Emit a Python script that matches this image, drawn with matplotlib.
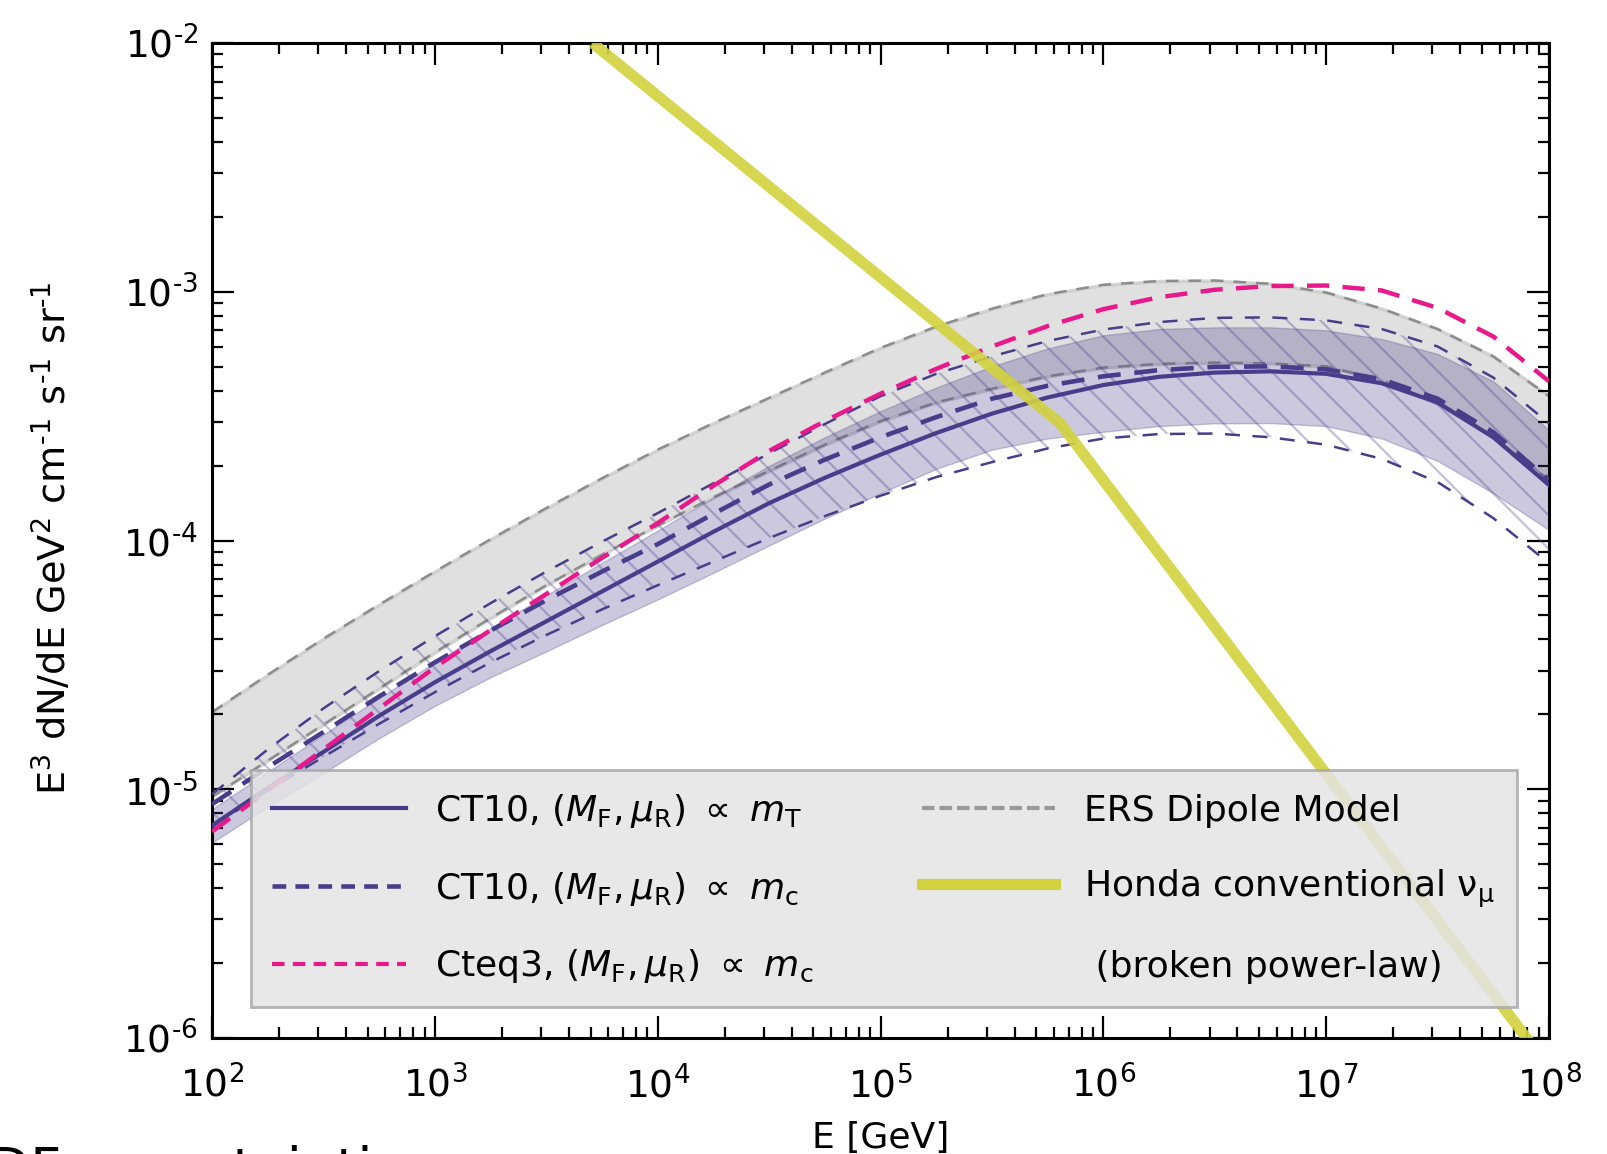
import numpy as np
import matplotlib
matplotlib.use("Agg")
import matplotlib.pyplot as plt
from matplotlib.lines import Line2D
from matplotlib.ticker import LogLocator, NullFormatter, FuncFormatter

# ---------------- data ----------------
# log10(E / GeV)
energy_log = [2.0, 2.25, 2.5, 2.75, 3.0, 3.25, 3.5, 3.75, 4.0, 4.25, 4.5, 4.75, 5.0,
              5.25, 5.5, 5.75, 6.0, 6.25, 6.5, 6.75, 7.0, 7.25, 7.5, 7.75, 8.0]

# log10(E^3 dN/dE) for each curve
ct10_mt_log = [-5.146, -4.995, -4.85, -4.705, -4.57, -4.445, -4.325, -4.205, -4.085, -3.965, -3.85, -3.748, -3.655,
               -3.568, -3.49, -3.425, -3.375, -3.342, -3.325, -3.32, -3.33, -3.368, -3.445, -3.585, -3.777]
ct10_mc_log = [-5.06, -4.912, -4.77, -4.627, -4.49, -4.362, -4.24, -4.125, -4.015, -3.893, -3.775, -3.675, -3.585,
               -3.504, -3.43, -3.378, -3.34, -3.315, -3.302, -3.30, -3.312, -3.352, -3.43, -3.565, -3.757]
cteq3_log = [-5.17, -5.005, -4.84, -4.675, -4.51, -4.36, -4.215, -4.07, -3.93, -3.78, -3.64, -3.52, -3.41,
             -3.31, -3.22, -3.138, -3.07, -3.022, -2.992, -2.977, -2.975, -2.995, -3.065, -3.18, -3.36]
ers_up_log = [-4.69, -4.54, -4.395, -4.258, -4.125, -3.995, -3.87, -3.75, -3.635, -3.528, -3.427, -3.325, -3.226,
              -3.14, -3.068, -3.01, -2.972, -2.957, -2.955, -2.968, -3.003, -3.068, -3.15, -3.26, -3.42]
ers_lo_log = [-5.03, -4.885, -4.74, -4.595, -4.45, -4.312, -4.18, -4.057, -3.94, -3.826, -3.72, -3.615, -3.52,
              -3.445, -3.39, -3.34, -3.305, -3.29, -3.285, -3.288, -3.30, -3.355, -3.45, -3.585, -3.757]
mt_band_up_log = [-5.08, -4.93, -4.78, -4.633, -4.49, -4.353, -4.22, -4.09, -3.96, -3.828, -3.70, -3.585, -3.48,
                  -3.385, -3.30, -3.228, -3.175, -3.15, -3.143, -3.143, -3.155, -3.19, -3.25, -3.36, -3.556]
mt_band_lo_log = [-5.215, -5.07, -4.935, -4.795, -4.665, -4.55, -4.446, -4.34, -4.237, -4.13, -4.02, -3.912, -3.81,
                  -3.712, -3.635, -3.59, -3.563, -3.54, -3.529, -3.528, -3.54, -3.59, -3.68, -3.81, -3.958]
mc_band_up_log = [-5.02, -4.84, -4.675, -4.525, -4.385, -4.252, -4.125, -4.005, -3.89, -3.77, -3.65, -3.532, -3.42,
                  -3.33, -3.26, -3.198, -3.152, -3.122, -3.105, -3.103, -3.115, -3.15, -3.22, -3.345, -3.529]
mc_band_lo_log = [-5.15, -5.005, -4.87, -4.737, -4.61, -4.49, -4.38, -4.277, -4.18, -4.085, -3.99, -3.902, -3.82,
                  -3.745, -3.685, -3.63, -3.59, -3.572, -3.57, -3.585, -3.615, -3.672, -3.765, -3.91, -4.092]

honda_energy = [5.1e3, 6.4e5, 1.0e8]
honda_flux = [1.0e-2, 2.96e-4, 7.6e-7]

labels = [
    r"CT10, $(M_\mathrm{F}, \mu_\mathrm{R})\ \propto\ m_\mathrm{T}$",
    r"CT10, $(M_\mathrm{F}, \mu_\mathrm{R})\ \propto\ m_\mathrm{c}$",
    r"Cteq3, $(M_\mathrm{F}, \mu_\mathrm{R})\ \propto\ m_\mathrm{c}$",
    "ERS Dipole Model",
    r"Honda conventional ν$_\mathregular{μ}$",
    " (broken power-law)",
]

# ---------------- styling ----------------
PURPLE = "#483D8B"
PINK = "#E8198B"
YELLOW = "#D2D23E"
HY = "\u2010"  # hyphen used as the exponent sign, as in the reference
plt.rcParams["hatch.linewidth"] = 1.6

E = 10 ** np.array(energy_log)
f = lambda a: 10 ** np.array(a)

fig = plt.figure(figsize=(16.08, 11.54), dpi=100)
ax = fig.add_axes([212 / 1608, 1 - 1038 / 1154, 1337 / 1608, 995 / 1154])
ax.set_xscale("log")
ax.set_yscale("log")

# ERS band
ax.fill_between(E, f(ers_lo_log), f(ers_up_log), facecolor="#D6D6D6", alpha=0.75,
                edgecolor="#C8C8C8", linewidth=2.5, zorder=1)
ax.plot(E, f(ers_up_log), color="#8C8C8C", lw=1.8, dashes=(5, 4), zorder=1.5)
ax.plot(E, f(ers_lo_log), color="#8C8C8C", lw=1.8, dashes=(5, 4), zorder=1.5)

# CT10 m_T band (filled)
ax.fill_between(E, f(mt_band_lo_log), f(mt_band_up_log), facecolor=PURPLE, alpha=0.28,
                edgecolor=PURPLE, linewidth=1.0, zorder=2)

# CT10 m_c band (hatched)
ax.fill_between(E, f(mc_band_lo_log), f(mc_band_up_log), facecolor="none",
                edgecolor=(72 / 255, 61 / 255, 139 / 255, 0.33), hatch="\\", linewidth=0, zorder=3)
ax.plot(E, f(mc_band_up_log), color=PURPLE, lw=1.8, dashes=(6, 5), zorder=4)
ax.plot(E, f(mc_band_lo_log), color=PURPLE, lw=1.8, dashes=(6, 5), zorder=4)

# central curves
ax.plot(E, f(ct10_mt_log), color=PURPLE, lw=3.0, zorder=5)
ax.plot(E, f(ct10_mc_log), color=PURPLE, lw=3.3, dashes=(5, 3), zorder=5)
ax.plot(E, f(cteq3_log), color=PINK, lw=3.2, dashes=(5, 3), zorder=5)

# Honda
ax.plot(honda_energy, honda_flux, color=YELLOW, lw=8, alpha=0.9, zorder=6, solid_capstyle="butt")

ax.set_xlim(1e2, 1e8)
ax.set_ylim(1e-6, 1e-2)


def pow_fmt(v, pos):
    e = int(round(np.log10(v)))
    s = (HY + str(-e)) if e < 0 else str(e)
    return r"$\mathregular{10^{%s}}$" % s


# ticks
ax.xaxis.set_major_locator(LogLocator(base=10, numticks=20))
ax.xaxis.set_minor_locator(LogLocator(base=10, subs=np.arange(2, 10), numticks=20))
ax.yaxis.set_major_locator(LogLocator(base=10, numticks=20))
ax.yaxis.set_minor_locator(LogLocator(base=10, subs=np.arange(2, 10), numticks=20))
ax.xaxis.set_major_formatter(FuncFormatter(pow_fmt))
ax.yaxis.set_major_formatter(FuncFormatter(pow_fmt))
ax.xaxis.set_minor_formatter(NullFormatter())
ax.yaxis.set_minor_formatter(NullFormatter())
ax.tick_params(which="both", direction="in", top=True, right=True, width=1.6, labelsize=27)
ax.tick_params(which="major", length=16)
ax.tick_params(which="minor", length=8)
ax.tick_params(axis="x", pad=20)
ax.tick_params(axis="y", pad=10)
for sp in ax.spines.values():
    sp.set_linewidth(2.2)

ax.set_xlabel("E [GeV]", fontsize=26)
ax.xaxis.set_label_coords(0.5, -0.083)
ax.set_ylabel(r"$\mathregular{E^{3}\ dN/dE\ GeV^{2}\ cm^{%s1}\ s^{%s1}\ sr^{%s1}}$" % (HY, HY, HY),
              fontsize=27.5)
ax.yaxis.set_label_coords(-0.103, 0.5025)

# legend
handles = [
    Line2D([], [], color=PURPLE, lw=3.0),
    Line2D([], [], color=PURPLE, lw=3.3, dashes=(3, 2)),
    Line2D([], [], color=PINK, lw=3.0, dashes=(3, 2)),
    Line2D([], [], color="#999999", lw=3.0, dashes=(3, 1.2)),
    Line2D([], [], color=YELLOW, lw=8),
    Line2D([], [], color="none"),
]
leg = ax.legend(handles, labels, ncol=2, loc="lower left", bbox_to_anchor=(0.029, 0.031),
                fontsize=26, frameon=True, fancybox=False, framealpha=0.85,
                facecolor="#E4E4E4", edgecolor="#A8A8A8", handlelength=3.7,
                handletextpad=0.8, columnspacing=3.0, labelspacing=1.1,
                borderpad=0.6, borderaxespad=0)
leg.get_frame().set_linewidth(2)
leg.set_zorder(10)

fig.text(-44 / 1608, 1 - 1186 / 1154, "PDF uncertainties", fontsize=39, color="black",
         ha="left", va="baseline")

fig.savefig("out.png", dpi=100)
